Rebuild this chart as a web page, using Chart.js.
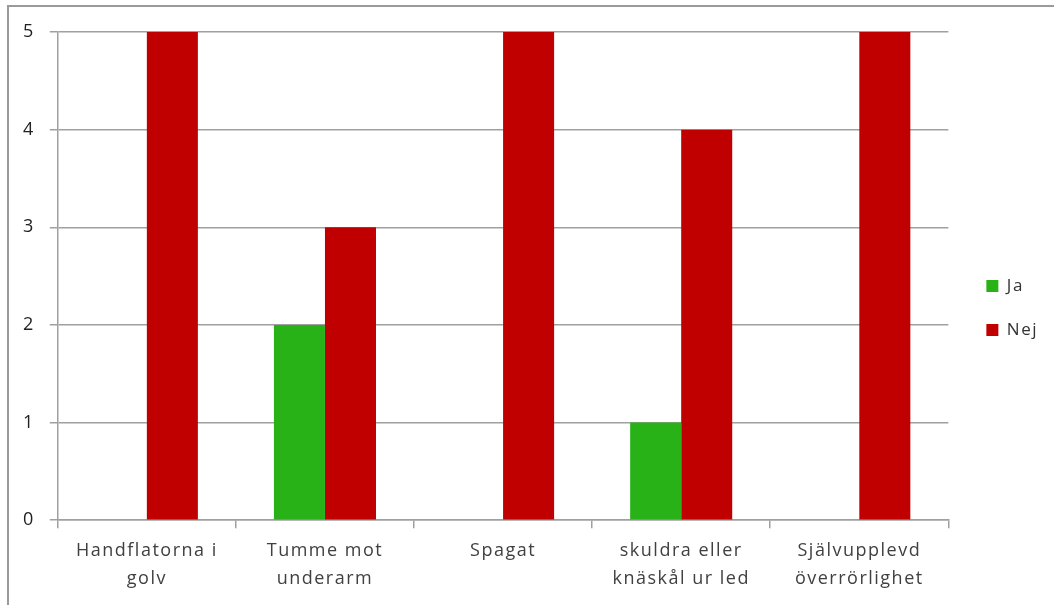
<!DOCTYPE html>
<html>
<head>
<meta charset="utf-8">
<script src="https://cdn.jsdelivr.net/npm/chart.js@4/dist/chart.umd.min.js"></script>
<style>
  body { margin: 0; background: #fff; }
  #wrap { position: relative; width: 1054px; height: 605px; }
  #frame {
    position: absolute; left: 7px; top: 5px; right: -4px; bottom: -4px;
    border-top: 2px solid #9a9a9a; border-left: 2px solid #9a9a9a;
    pointer-events: none;
  }
</style>
</head>
<body>
<div id="wrap">
  <canvas id="myChart"></canvas>
  <div id="frame"></div>
</div>
<script>
const categories = [
    ['Handflatorna i', 'golv'],
    ['Tumme mot', 'underarm'],
    ['Spagat'],
    ['skuldra eller', 'knäskål ur led'],
    ['Självupplevd', 'överrörlighet']
]
const jaValues = [0, 2, 0, 1, 0]
const nejValues = [5, 3, 5, 4, 5]
const yTicks = [0, 1, 2, 3, 4, 5]

const ctx = document.getElementById('myChart');
Chart.defaults.font.family = '"Open Sans", Lato, sans-serif';

// wider letter spacing, like the original office font
const spacing = {
    id: 'spacing',
    beforeLayout(chart) { chart.ctx.letterSpacing = '1.5px'; },
    beforeDraw(chart) { chart.ctx.letterSpacing = '1.5px'; },
    afterLayout(chart) {
        // legend sits a bit higher than centred
        chart.legend.top -= 9;
        chart.legend.bottom -= 9;
    }
};

new Chart(ctx, {
    type: 'bar',
    data: {
        labels: categories,
        datasets: [{
            label: 'Ja',
            data: jaValues,
            backgroundColor: '#28b217',
            borderWidth: 0,
            categoryPercentage: 0.573,
            barPercentage: 1
        },
        {
            label: 'Nej',
            data: nejValues,
            backgroundColor: '#c00000',
            borderWidth: 0,
            categoryPercentage: 0.573,
            barPercentage: 1
        }]
    },
    plugins: [spacing],
    options: {
        responsive: true,
        maintainAspectRatio: false,
        animation: false,
        layout: {
            padding: { top: 32, left: 8, right: 6, bottom: 3 }
        },
        plugins: {
            tooltip: { enabled: false },
            legend: {
                position: 'right',
                labels: {
                    boxWidth: 12,
                    boxHeight: 12,
                    padding: 27,
                    color: '#333',
                    font: { size: 17 }
                }
            }
        },
        scales: {
            x: {
                grid: {
                    offset: true,
                    drawOnChartArea: false,
                    drawTicks: true,
                    tickLength: 8,
                    color: '#a0a0a0',
                    lineWidth: 1.5
                },
                border: { color: '#a0a0a0', width: 1.5 },
                ticks: {
                    color: '#404040',
                    padding: 9,
                    maxRotation: 0,
                    font: { size: 18, lineHeight: 1.55 }
                }
            },
            y: {
                min: 0,
                max: 5,
                afterBuildTicks: function (axis) {
                    axis.ticks = yTicks.map(v => ({ value: v }));
                },
                grid: {
                    color: '#a0a0a0',
                    lineWidth: 1.5,
                    tickLength: 8
                },
                border: { color: '#a0a0a0', width: 1.5 },
                ticks: {
                    color: '#222',
                    padding: 15,
                    font: { size: 18 }
                }
            },
            // empty strip between plot and legend
            gap: {
                type: 'linear',
                position: 'right',
                grid: { display: false },
                border: { display: false },
                ticks: { display: false },
                afterFit: function (axis) { axis.width = 11; }
            }
        }
    }
});
</script>
</body>
</html>
